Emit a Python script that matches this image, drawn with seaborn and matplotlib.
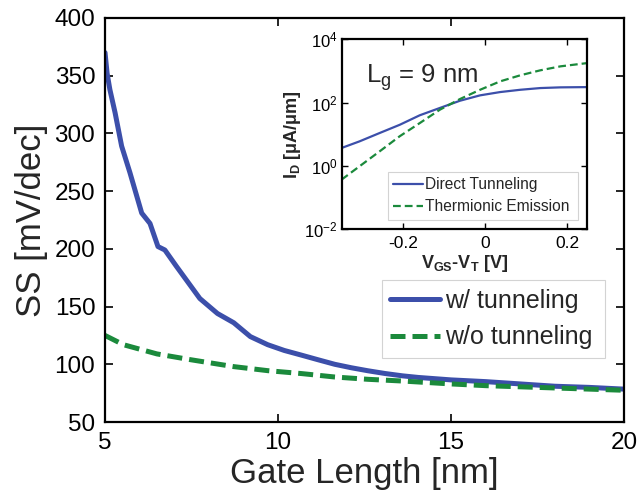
import numpy as np
import pandas as pd
import matplotlib
matplotlib.use("Agg")
import matplotlib.pyplot as plt
import seaborn as sns
from matplotlib.ticker import LogLocator, LogFormatterSciNotation, NullLocator

# ---- main chart data ----
gate_len_tun = [5.0, 5.06, 5.14, 5.29, 5.48, 5.72, 6.06, 6.3, 6.53, 6.73, 7.06, 7.74, 8.25,
                8.72, 9.2, 9.7, 10.18, 10.67, 11.15, 11.64, 12.12, 12.6, 13.1, 13.6, 14.06,
                15.0, 16.0, 17.0, 18.0, 19.0, 20.0]
ss_tun = [370, 352, 338, 318, 289, 266, 231, 222, 202, 199, 185, 157, 144,
          136, 124, 117, 112, 108, 104, 100, 97, 94.4, 92, 90, 88.6,
          86.5, 85, 83, 81, 80, 78.5]
gate_len_notun = [5.0, 5.53, 6.5, 7.47, 8.3, 8.72, 9.7, 10.67, 11.64, 12.6, 13.6,
                  15.0, 16.0, 17.0, 18.0, 19.0, 20.0]
ss_notun = [125, 117, 109, 104, 100, 98, 94.5, 92, 89, 87, 85.5,
            83, 81.5, 80.5, 79.5, 78.5, 77.5]
main_labels = ["w/ tunneling", "w/o tunneling"]
x_ticks = [5, 10, 15, 20]
y_ticks = [50, 100, 150, 200, 250, 300, 350, 400]

# ---- inset data ----
vgs_dt = [-0.35, -0.306, -0.257, -0.208, -0.159, -0.11, -0.061, -0.012, 0.037, 0.086,
          0.135, 0.184, 0.25]
id_dt = [3.7, 6.0, 11, 20, 40, 68, 115, 170, 216, 255, 289, 304, 310]
vgs_te = [-0.35, -0.306, -0.257, -0.208, -0.159, -0.11, -0.061, -0.012, 0.037, 0.086,
          0.135, 0.184, 0.25]
id_te = [0.37, 0.98, 2.9, 8.7, 22.7, 60, 130, 255, 470, 730, 1050, 1400, 1780]
inset_labels = ["Direct Tunneling", "Thermionic Emission"]
inset_xticks = [-0.2, 0, 0.2]

BLUE = "#3C4FAA"
GREEN = "#1B8A3C"

sns.set_style("ticks")
plt.rcParams["font.family"] = ["Liberation Sans", "DejaVu Sans"]
plt.rcParams["mathtext.fontset"] = "custom"
plt.rcParams["mathtext.rm"] = "Liberation Sans"
plt.rcParams["mathtext.it"] = "Liberation Sans:italic"
plt.rcParams["mathtext.bf"] = "Liberation Sans:bold"
plt.rcParams["mathtext.default"] = "regular"

fig = plt.figure(figsize=(6.42, 4.94), dpi=100)
ax = fig.add_axes([0.1636, 0.1457, 0.972 - 0.1636, 0.9636 - 0.1457])

df_t = pd.DataFrame({"x": gate_len_tun, "y": ss_tun})
df_n = pd.DataFrame({"x": gate_len_notun, "y": ss_notun})
sns.lineplot(data=df_t, x="x", y="y", ax=ax, color=BLUE, lw=3.6, label=main_labels[0])
sns.lineplot(data=df_n, x="x", y="y", ax=ax, color=GREEN, lw=3.6, label=main_labels[1])
ax.lines[1].set_dashes((3, 1.4))
ax.lines[1].set_dash_capstyle("butt")

ax.set_xlim(5, 20)
ax.set_ylim(50, 400)
ax.set_xticks(x_ticks)
ax.set_yticks(y_ticks)
ax.tick_params(direction="in", length=6, width=1.2, labelsize=17.5,
               top=True, right=True, colors="black")
ax.tick_params(axis="x", pad=7)
ax.tick_params(axis="y", pad=7)
for s in ax.spines.values():
    s.set_visible(True)
    s.set_linewidth(1.6)
    s.set_color("black")
ax.set_xlabel("Gate Length [nm]", fontsize=25, labelpad=2)
ax.set_ylabel("SS [mV/dec]", fontsize=25, labelpad=5)

leg = ax.legend(loc="upper left", bbox_to_anchor=(0.533, 0.1715, 0.43, 0.18), mode="expand",
                fontsize=18, frameon=True, fancybox=False, handlelength=2.0,
                handletextpad=0.2, borderpad=0.35, labelspacing=0.5, borderaxespad=0)
leg.get_frame().set_edgecolor("#c8c8c8")
leg.get_frame().set_linewidth(0.8)

# ---- inset ----
ins = fig.add_axes([0.532, 0.5358, 0.383, 0.3846])
df_dt = pd.DataFrame({"x": vgs_dt, "y": id_dt})
df_te = pd.DataFrame({"x": vgs_te, "y": id_te})
sns.lineplot(data=df_dt, x="x", y="y", ax=ins, color=BLUE, lw=1.6, label=inset_labels[0])
sns.lineplot(data=df_te, x="x", y="y", ax=ins, color=GREEN, lw=1.6, label=inset_labels[1])
ins.lines[1].set_dashes((3.5, 1.8))
ins.set_yscale("log")
ins.set_xlim(-0.35, 0.25)
ins.set_ylim(1e-2, 1e4)
ins.set_xticks(inset_xticks)
ins.set_xticklabels(["-0.2", "0", "0.2"])
ins.yaxis.set_major_locator(LogLocator(base=100))
ins.yaxis.set_major_formatter(LogFormatterSciNotation(base=10))
ins.yaxis.set_minor_locator(NullLocator())
ins.tick_params(direction="in", length=4, width=1.0, labelsize=12.5,
                top=True, right=True, colors="black")
ins.tick_params(axis="x", pad=5)
ins.tick_params(axis="y", pad=3, labelsize=12)
for s in ins.spines.values():
    s.set_visible(True)
    s.set_linewidth(1.6)
    s.set_color("black")
ins.set_xlabel(r"V$_{\mathbf{GS}}$-V$_{\mathbf{T}}$ [V]", fontsize=13, fontweight="bold", labelpad=1)
ins.set_ylabel(r"I$_{\mathbf{D}}$ [μA/μm]", fontsize=13, fontweight="bold", labelpad=1)
ins.text(0.1, 0.80, r"L$_g$ = 9 nm", transform=ins.transAxes, fontsize=18.5,
         va="center", ha="left")
ileg = ins.legend(loc="upper left", bbox_to_anchor=(0.189, 0.066, 0.773, 0.237), mode="expand",
                  fontsize=11.2, frameon=True, fancybox=False, handlelength=1.9,
                  handletextpad=0.15, borderpad=0.35, labelspacing=0.45, borderaxespad=0)
ileg.get_frame().set_edgecolor("#c8c8c8")
ileg.get_frame().set_linewidth(0.8)

fig.savefig("out.png", dpi=100)
